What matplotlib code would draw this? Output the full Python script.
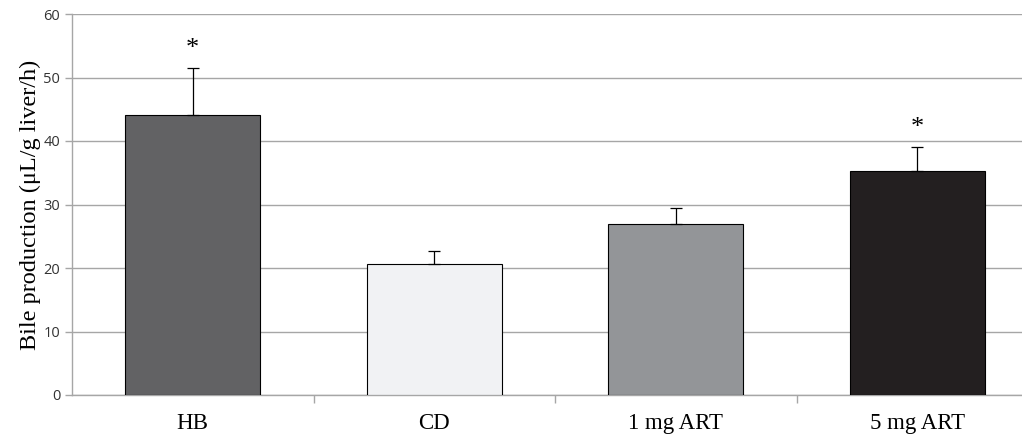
import numpy as np
import matplotlib.pyplot as plt

groups = ['HB', 'CD', '1 mg ART', '5 mg ART']
means = [44.1, 20.6, 27.0, 35.3]
errors = [7.4, 2.1, 2.4, 3.8]
colors = ['#626264', '#f1f2f4', '#939598', '#231f20']
significant = [True, False, False, True]

fig = plt.figure(figsize=(10.22, 4.38), dpi=100)
# axes extends past the right edge of the figure as in the original crop
ax = fig.add_axes([72 / 1022, 1 - 395 / 438, 966 / 1022, 381 / 438])

x = np.arange(len(groups))
ax.bar(x, means, width=0.56, color=colors, edgecolor='black', linewidth=0.8, zorder=3)
ax.errorbar(x, means, yerr=[np.zeros(len(means)), errors], fmt='none',
            ecolor='black', elinewidth=0.9, capsize=4, capthick=0.9, zorder=4)
for xi, m, e, s in zip(x, means, errors, significant):
    if s:
        ax.text(xi, m + e + 1.2, '*', ha='center', va='bottom', fontsize=19,
                family='Liberation Serif')

ax.set_xlim(-0.5, len(groups) - 0.5)
ax.set_ylim(0, 60)
ax.set_yticks(range(0, 61, 10))
ax.yaxis.grid(True, color='#a6a6a6', linewidth=1.0, zorder=0)
ax.set_axisbelow(True)

ax.set_xticks(x)
ax.set_xticklabels(groups, family='Liberation Serif', fontsize=16.5)
ax.set_xticks(np.arange(0.5, len(groups) - 0.5, 1), minor=True)
ax.tick_params(axis='x', which='major', length=0, pad=13)
ax.tick_params(axis='x', which='minor', length=6, color='#a6a6a6', width=1)
ax.tick_params(axis='y', length=5, color='#a6a6a6', width=1, labelsize=10.5, colors='#333333')
for lab in ax.get_yticklabels():
    lab.set_family('Open Sans')

ax.set_ylabel('Bile production (μL/g liver/h)', family='Liberation Serif', fontsize=17.5, labelpad=2)

for side in ['top', 'right']:
    ax.spines[side].set_visible(False)
for side in ['left', 'bottom']:
    ax.spines[side].set_color('#a6a6a6')
    ax.spines[side].set_linewidth(1.0)

plt.savefig('out.png', dpi=100)
